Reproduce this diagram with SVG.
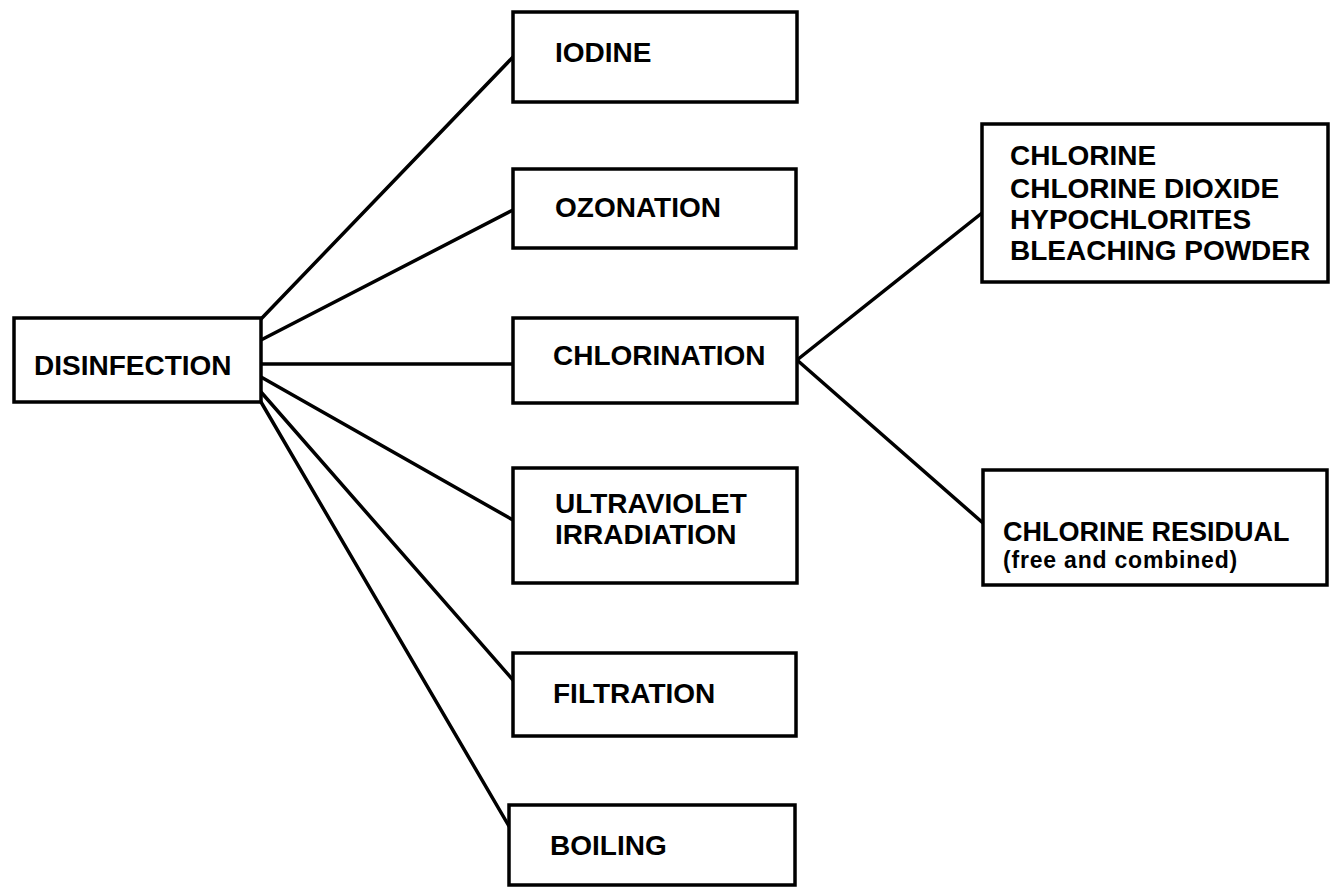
<svg xmlns="http://www.w3.org/2000/svg" width="1331" height="887" viewBox="0 0 1331 887">
<style>
.box{fill:#fff;stroke:#000;stroke-width:3.5}
.t{font-family:"Liberation Sans",Arial,sans-serif;font-weight:bold;font-size:28px;fill:#000}
.s{font-size:23px;letter-spacing:0.8px}
.c{stroke:#000;stroke-width:3.5;fill:none;stroke-linecap:round}
</style>
<rect width="1331" height="887" fill="#fff"/>
<g id="connectors">
<line class="c" x1="261" y1="319" x2="513" y2="57"/>
<line class="c" x1="261" y1="340" x2="513" y2="210"/>
<line class="c" x1="261" y1="364" x2="513" y2="364"/>
<line class="c" x1="261" y1="377" x2="513" y2="520"/>
<line class="c" x1="261" y1="392" x2="513" y2="680"/>
<line class="c" x1="261" y1="402" x2="513" y2="833"/>
<line class="c" x1="797" y1="360" x2="982" y2="213"/>
<line class="c" x1="797" y1="360" x2="983" y2="523"/>
</g>
<g id="disinfection">
<rect class="box" x="14" y="318" width="247" height="84"/>
<text class="t" x="34" y="375">DISINFECTION</text>
</g>
<g id="iodine">
<rect class="box" x="513" y="12" width="284" height="90"/>
<text class="t" x="555" y="62">IODINE</text>
</g>
<g id="ozonation">
<rect class="box" x="513" y="169" width="283" height="79"/>
<text class="t" x="555" y="217">OZONATION</text>
</g>
<g id="chlorination">
<rect class="box" x="513" y="318" width="284" height="85"/>
<text class="t" x="553" y="365">CHLORINATION</text>
</g>
<g id="ultraviolet">
<rect class="box" x="513" y="468" width="284" height="115"/>
<text class="t" x="555" y="513">ULTRAVIOLET</text>
<text class="t" x="555" y="544">IRRADIATION</text>
</g>
<g id="filtration">
<rect class="box" x="513" y="653" width="283" height="83"/>
<text class="t" x="553" y="703">FILTRATION</text>
</g>
<g id="boiling">
<rect class="box" x="509" y="805" width="286" height="80"/>
<text class="t" x="550" y="855">BOILING</text>
</g>
<g id="chlorine-compounds">
<rect class="box" x="982" y="124" width="346" height="158"/>
<text class="t" x="1010" y="165">CHLORINE</text>
<text class="t" x="1010" y="198">CHLORINE DIOXIDE</text>
<text class="t" x="1010" y="229">HYPOCHLORITES</text>
<text class="t" x="1010" y="260">BLEACHING POWDER</text>
</g>
<g id="chlorine-residual">
<rect class="box" x="983" y="470" width="344" height="115"/>
<text class="t" x="1003" y="541" style="font-size:27px">CHLORINE RESIDUAL</text>
<text class="t s" x="1003" y="568">(free and combined)</text>
</g>
</svg>
